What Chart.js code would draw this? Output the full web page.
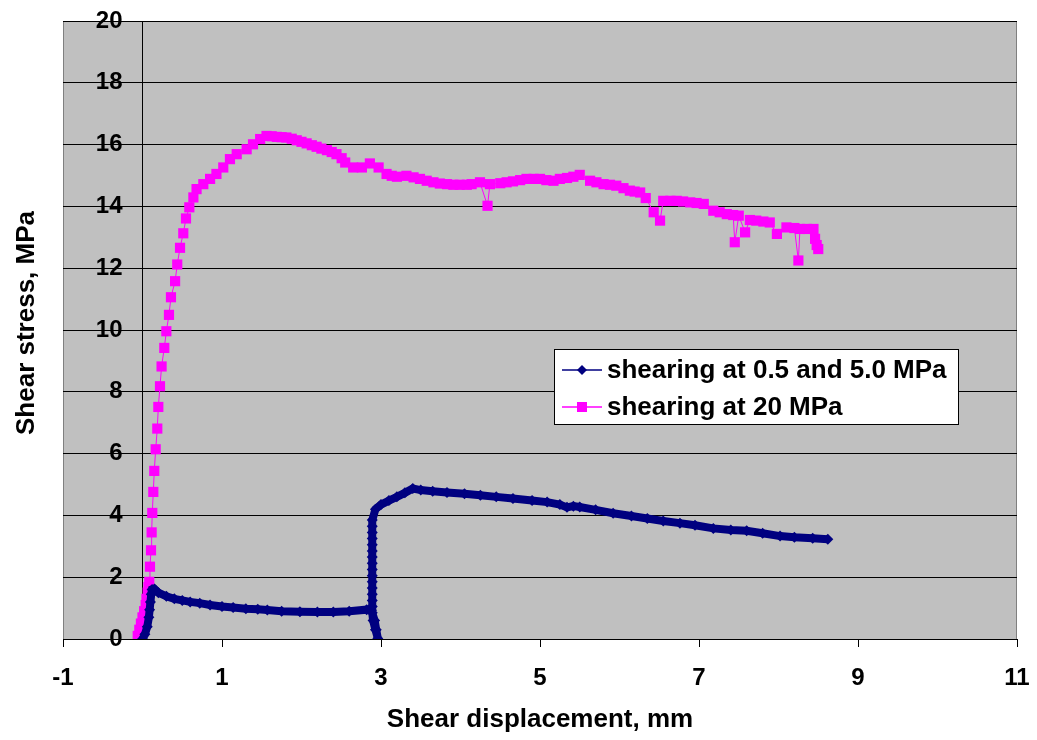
<!DOCTYPE html>
<html>
<head>
<meta charset="utf-8">
<script src="https://cdn.jsdelivr.net/npm/chart.js@4/dist/chart.umd.min.js"></script>
<style>
  html, body { margin: 0; padding: 0; background: #fff; }
  #wrap { width: 1037px; height: 740px; }
</style>
</head>
<body>
<div id="wrap"><canvas id="shearChart" width="1037" height="740"></canvas></div>
<script>
// values
const lowStressX = [0.0, 0.03, 0.06, 0.08, 0.09, 0.10, 0.11, 0.12, 0.15, 0.20, 0.30, 0.40, 0.50, 0.60, 0.72, 0.85, 1.00, 1.14, 1.30, 1.45, 1.57, 1.75, 1.98, 2.20, 2.40, 2.60, 2.82, 2.88, 2.92, 2.94, 2.96,
    2.93, 2.90, 2.89, 2.89, 2.89, 2.89, 2.89, 2.89, 2.89, 2.89, 2.89, 2.89, 2.89, 2.89, 2.89, 2.89, 2.89, 2.89,
    2.93, 3.00, 3.10, 3.20, 3.30, 3.40, 3.50, 3.65, 3.83, 4.05, 4.25, 4.45, 4.66, 4.90, 5.09, 5.25, 5.34, 5.42, 5.50, 5.70, 5.92, 6.15, 6.35, 6.55, 6.76, 6.95, 7.18, 7.40, 7.60, 7.80, 8.02, 8.20, 8.43, 8.62];
const lowStressY = [0.0, 0.15, 0.40, 0.70, 0.95, 1.20, 1.45, 1.60, 1.62, 1.50, 1.38, 1.30, 1.25, 1.20, 1.16, 1.10, 1.05, 1.02, 0.98, 0.96, 0.94, 0.90, 0.88, 0.87, 0.87, 0.90, 0.95, 0.93, 0.60, 0.30, 0.02,
    0.30, 0.60, 0.85, 1.05, 1.25, 1.45, 1.65, 1.85, 2.05, 2.25, 2.45, 2.65, 2.85, 3.05, 3.25, 3.45, 3.65, 3.85,
    4.20, 4.35, 4.48, 4.60, 4.73, 4.87, 4.82, 4.78, 4.74, 4.70, 4.65, 4.60, 4.55, 4.48, 4.43, 4.35, 4.26, 4.30, 4.27, 4.18, 4.07, 3.98, 3.90, 3.82, 3.75, 3.68, 3.58, 3.53, 3.50, 3.42, 3.33, 3.29, 3.26, 3.23];

const highStressX = [-0.06, -0.04, -0.02, 0.0, 0.02, 0.04, 0.05, 0.065, 0.075, 0.085, 0.094, 0.107, 0.115, 0.123, 0.136, 0.148, 0.166, 0.186, 0.199, 0.22, 0.24, 0.274, 0.30, 0.333, 0.358, 0.41, 0.437, 0.472, 0.513, 0.547, 0.589, 0.64, 0.68, 0.765, 0.85, 0.93, 1.016, 1.10, 1.185, 1.31, 1.39, 1.48, 1.56, 1.625, 1.69, 1.75, 1.81, 1.877, 1.94, 2.0, 2.065, 2.13, 2.19, 2.25, 2.32, 2.38, 2.44, 2.505, 2.55, 2.65, 2.76, 2.86, 2.97, 3.07, 3.135, 3.20, 3.32, 3.41, 3.49, 3.575, 3.66, 3.74, 3.83, 3.91, 3.99, 4.08, 4.14, 4.245, 4.34, 4.37, 4.50, 4.58, 4.66, 4.75, 4.83, 4.92, 5.0, 5.08, 5.17, 5.25, 5.34, 5.42, 5.50, 5.63, 5.71, 5.80, 5.88, 5.96, 6.05, 6.13, 6.19, 6.26, 6.33, 6.43, 6.51, 6.55, 6.64, 6.72, 6.80, 6.89, 6.97, 7.06, 7.18, 7.26, 7.35, 7.43, 7.45, 7.50, 7.58, 7.64, 7.72, 7.81, 7.89, 7.98, 8.10, 8.20, 8.25, 8.27, 8.36, 8.44, 8.46, 8.48, 8.50];
const highStressY = [0.1, 0.3, 0.5, 0.7, 0.9, 1.1, 1.3, 1.5, 1.68, 1.85, 2.34, 2.87, 3.45, 4.08, 4.76, 5.44, 6.14, 6.81, 7.51, 8.18, 8.82, 9.42, 9.96, 10.49, 11.06, 11.58, 12.12, 12.66, 13.13, 13.61, 13.97, 14.29, 14.56, 14.72, 14.89, 15.05, 15.26, 15.53, 15.69, 15.85, 16.01, 16.18, 16.28, 16.27, 16.25, 16.24, 16.23, 16.19, 16.14, 16.09, 16.04, 15.98, 15.93, 15.87, 15.82, 15.76, 15.69, 15.56, 15.42, 15.26, 15.26, 15.39, 15.26, 15.05, 14.99, 14.96, 14.99, 14.94, 14.89, 14.83, 14.78, 14.74, 14.72, 14.70, 14.70, 14.70, 14.72, 14.78, 14.02, 14.72, 14.75, 14.78, 14.81, 14.85, 14.89, 14.89, 14.89, 14.85, 14.83, 14.89, 14.92, 14.96, 15.02, 14.83, 14.78, 14.72, 14.70, 14.67, 14.59, 14.51, 14.48, 14.45, 14.27, 13.81, 13.54, 14.18, 14.18, 14.18, 14.16, 14.13, 14.11, 14.08, 13.86, 13.81, 13.75, 13.72, 12.84, 13.70, 13.16, 13.56, 13.54, 13.51, 13.48, 13.11, 13.32, 13.30, 12.25, 13.27, 13.27, 13.27, 12.95, 12.75, 12.62];

const xTicks = [-1, 1, 3, 5, 7, 9, 11];
const yTicks = [0, 2, 4, 6, 8, 10, 12, 14, 16, 18, 20];
const seriesNames = ['shearing at 0.5 and 5.0 MPa', 'shearing at 20 MPa'];

const FONT = '"Liberation Sans", Arial, sans-serif';
const NAVY = '#000080';
const PINK = '#FF00FF';

function toPoints(xs, ys) {
    return xs.map((x, i) => ({ x: x, y: ys[i] }));
}

// grey plot area with thin border
const plotBackground = {
    id: 'plotBackground',
    beforeDraw(chart) {
        const { ctx, chartArea: a } = chart;
        ctx.save();
        ctx.fillStyle = '#C0C0C0';
        ctx.fillRect(a.left, a.top, a.right - a.left, a.bottom - a.top);
        ctx.strokeStyle = '#808080';
        ctx.lineWidth = 1;
        ctx.strokeRect(a.left + 0.5, a.top + 0.5, a.right - a.left - 1, a.bottom - a.top);
        ctx.restore();
    }
};

// y title and the boxed legend, drawn like the original
const extras = {
    id: 'extras',
    afterDraw(chart) {
        const ctx = chart.ctx;
        ctx.save();
        ctx.fillStyle = '#000';
        ctx.font = 'bold 26px ' + FONT;
        ctx.textAlign = 'center';
        ctx.textBaseline = 'middle';
        ctx.translate(27, 323);
        ctx.rotate(-Math.PI / 2);
        ctx.fillText('Shear stress, MPa', 0, 0);
        ctx.restore();

        const bx = 554, by = 349, bw = 404, bh = 75;
        ctx.save();
        ctx.fillStyle = '#fff';
        ctx.fillRect(bx, by, bw, bh);
        ctx.strokeStyle = '#000';
        ctx.lineWidth = 1;
        ctx.strokeRect(bx + 0.5, by + 0.5, bw, bh);

        const rows = [370, 407];
        const colors = [NAVY, PINK];
        rows.forEach((ry, i) => {
            ctx.strokeStyle = colors[i];
            ctx.lineWidth = 1.5;
            ctx.beginPath();
            ctx.moveTo(562, ry);
            ctx.lineTo(602, ry);
            ctx.stroke();
            ctx.fillStyle = colors[i];
            ctx.beginPath();
            if (i === 0) {
                ctx.moveTo(582, ry - 5);
                ctx.lineTo(587, ry);
                ctx.lineTo(582, ry + 5);
                ctx.lineTo(577, ry);
                ctx.closePath();
            } else {
                ctx.rect(577, ry - 5, 10, 10);
            }
            ctx.fill();
            ctx.fillStyle = '#000';
            ctx.font = 'bold 26px ' + FONT;
            ctx.textAlign = 'left';
            ctx.textBaseline = 'middle';
            ctx.fillText(seriesNames[i], 607, ry + 1);
        });
        ctx.restore();
    }
};

const ctx = document.getElementById('shearChart').getContext('2d');

new Chart(ctx, {
    type: 'scatter',
    data: {
        datasets: [
            {
                label: seriesNames[0],
                data: toPoints(lowStressX, lowStressY),
                showLine: true,
                borderColor: NAVY,
                backgroundColor: NAVY,
                borderWidth: 8,
                pointStyle: 'rectRot',
                pointRadius: 5.5,
                pointBorderWidth: 0,
                tension: 0
            },
            {
                label: seriesNames[1],
                data: toPoints(highStressX, highStressY),
                showLine: true,
                borderColor: PINK,
                backgroundColor: PINK,
                borderWidth: 1,
                pointStyle: 'rect',
                pointRadius: 7.2,
                pointBorderWidth: 0,
                tension: 0
            }
        ]
    },
    options: {
        responsive: false,
        animation: false,
        layout: { padding: { left: 63, right: 20, top: 21, bottom: 0 } },
        plugins: {
            legend: { display: false },
            tooltip: { enabled: false }
        },
        scales: {
            x: {
                type: 'linear',
                position: 'bottom',
                min: -1,
                max: 11,
                afterBuildTicks: scale => { scale.ticks = xTicks.map(v => ({ value: v })); },
                afterFit: scale => {
                    scale.height = 101;
                    scale.paddingLeft = 0;
                    scale.paddingRight = 0;
                },
                grid: {
                    drawOnChartArea: false,
                    drawTicks: true,
                    tickLength: 8,
                    color: '#000'
                },
                border: { display: true, color: '#000', width: 1 },
                ticks: {
                    color: '#000',
                    padding: 17,
                    maxRotation: 0,
                    font: { family: FONT, size: 24, weight: 'bold' }
                },
                title: {
                    display: true,
                    text: 'Shear displacement, mm',
                    color: '#000',
                    padding: { top: 0, bottom: 5 },
                    font: { family: FONT, size: 26, weight: 'bold' }
                }
            },
            y: {
                type: 'linear',
                position: { x: 0 },
                min: 0,
                max: 20,
                afterBuildTicks: scale => { scale.ticks = yTicks.map(v => ({ value: v })); },
                grid: {
                    drawOnChartArea: true,
                    drawTicks: true,
                    tickLength: 7,
                    color: '#000'
                },
                border: { display: true, color: '#000', width: 1 },
                ticks: {
                    color: '#000',
                    // labels sit left of the axis line at x = 0
                    callback: v => v + '   ',
                    font: { family: FONT, size: 24, weight: 'bold' }
                },
                title: { display: false }
            }
        }
    },
    plugins: [plotBackground, extras]
});
</script>
</body>
</html>
